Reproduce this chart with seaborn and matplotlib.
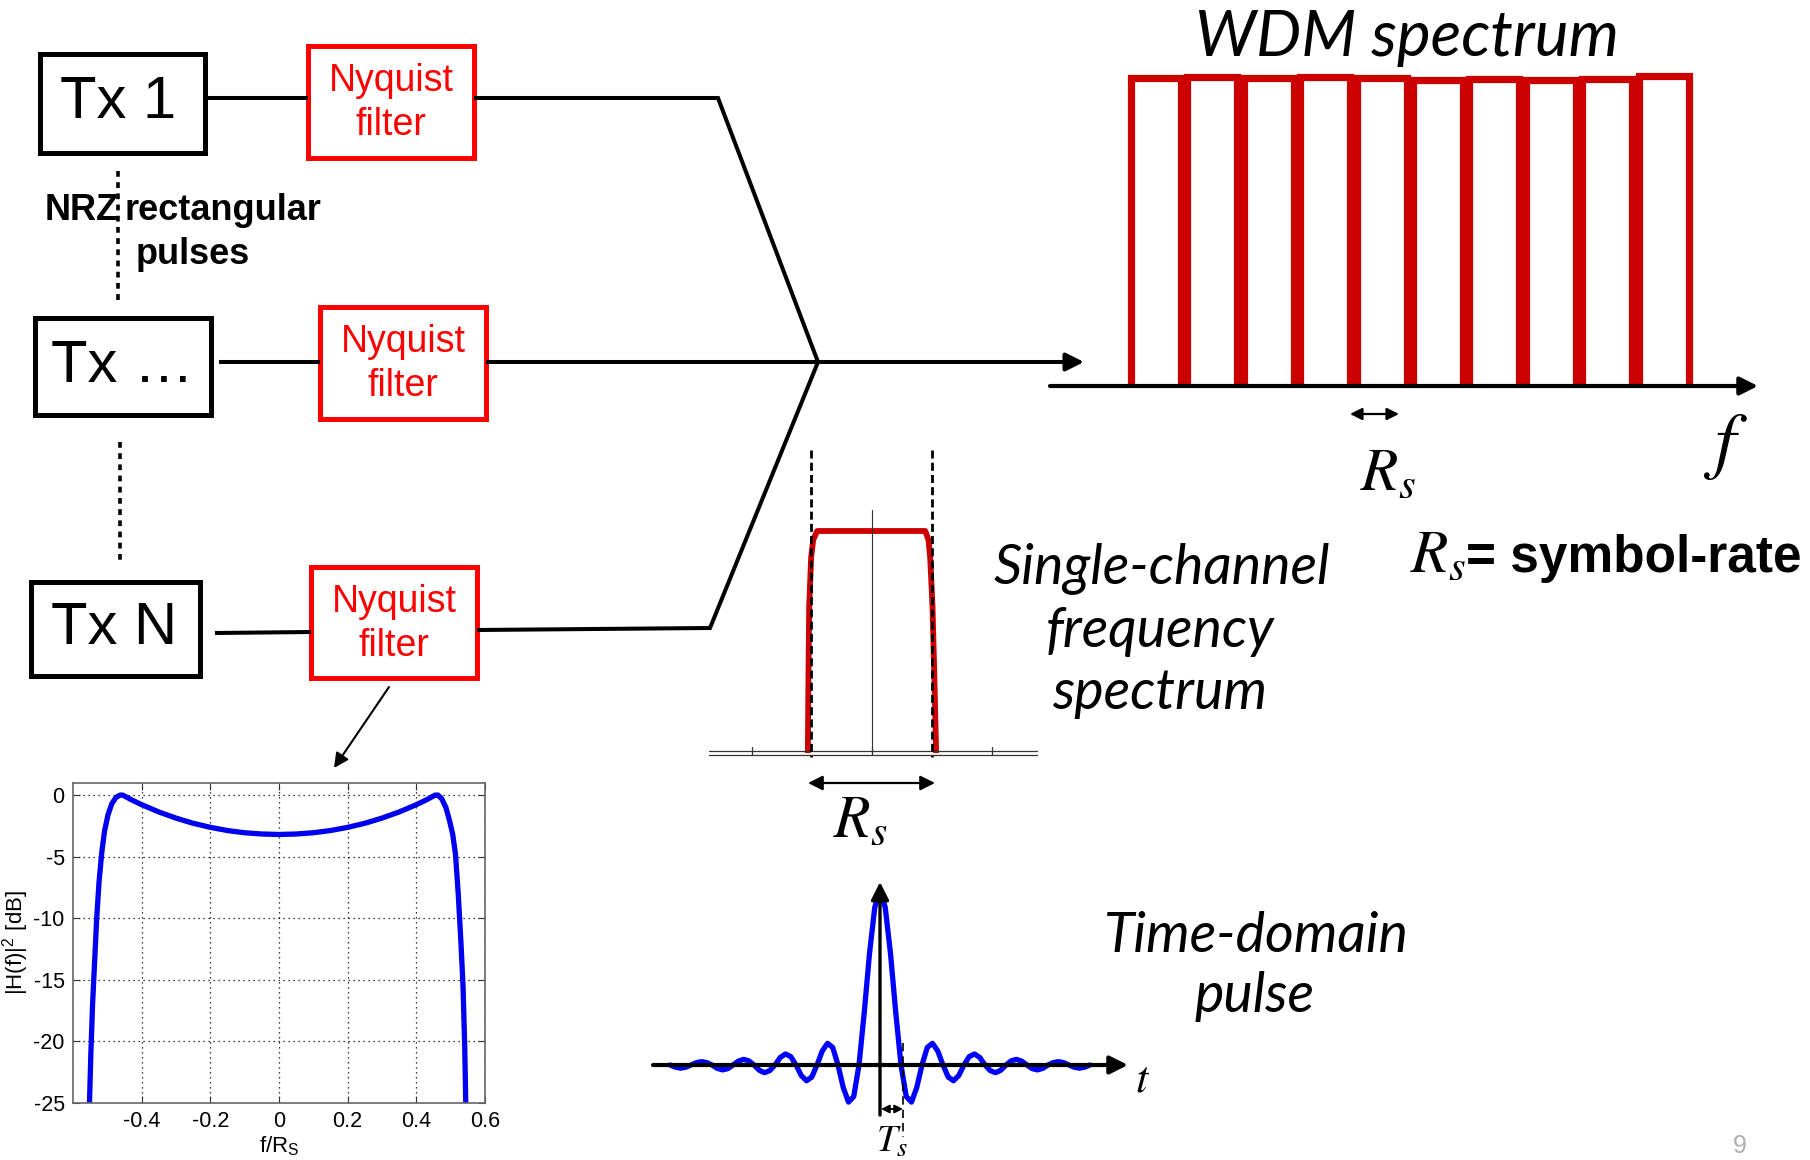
import numpy as np
import pandas as pd
import matplotlib
matplotlib.use("Agg")
import matplotlib.pyplot as plt
import seaborn as sns
from matplotlib.patches import Rectangle

sns.set_theme(style="white")
plt.rcParams['font.family'] = ['Liberation Sans', 'DejaVu Sans']
plt.rcParams['mathtext.fontset'] = 'stix'
plt.rcParams['text.color'] = 'black'
plt.rcParams['axes.labelcolor'] = 'black'
plt.rcParams['xtick.color'] = 'black'
plt.rcParams['ytick.color'] = 'black'

# ---------------- data ----------------
tx_labels = ["Tx 1", "Tx \u2026", "Tx N"]
filter_label = ["Nyquist", "filter"]

# WDM spectrum: channel centres (in units of Rs) and relative power
wdm_center = [0, 1, 2, 3, 4, 5, 6, 7, 8, 9]
wdm_power = [1.0, 1.003, 1.0, 1.003, 1.0, 0.993, 0.997, 0.995, 0.997, 1.007]

# single-channel spectrum (f / Rs, relative level)
sc_freq = [-0.530, -0.525, -0.519, -0.503, -0.486, -0.453, 0.440, 0.467, 0.481, 0.500, 0.515, 0.530]
sc_level = [0.0, 0.35, 0.66, 0.88, 0.96, 1.0, 1.0, 0.96, 0.88, 0.66, 0.35, 0.0]

# Nyquist filter |H(f)|^2 in dB
hf_freq = [-0.552, -0.548, -0.543, -0.537, -0.531, -0.524, -0.516, -0.508, -0.498, -0.487,
           -0.475, -0.463, -0.455, -0.43, -0.40, -0.35, -0.30, -0.25, -0.20, -0.15, -0.10,
           -0.05, 0.0, 0.05, 0.10, 0.15, 0.20, 0.25, 0.30, 0.35, 0.40, 0.43, 0.455, 0.463,
           0.474, 0.486, 0.497, 0.506, 0.514, 0.522, 0.530, 0.536, 0.541, 0.544]
hf_db = [-25.0, -21.0, -17.0, -13.5, -10.0, -7.0, -4.6, -2.9, -1.6, -0.7,
         -0.2, 0.0, 0.0, -0.38, -0.78, -1.37, -1.87, -2.29, -2.62, -2.88, -3.06,
         -3.16, -3.2, -3.16, -3.06, -2.88, -2.62, -2.29, -1.87, -1.37, -0.78, -0.38, 0.0, 0.0,
         -0.3, -1.0, -2.1, -3.2, -4.8, -8.0, -12.0, -15.5, -20.5, -25.0]
hf_xticks = [-0.4, -0.2, 0, 0.2, 0.4, 0.6]
hf_xticklabels = ["-0.4", "-0.2", "0", "0.2", "0.4", "0.6"]
hf_yticks = [0, -5, -10, -15, -20, -25]

# time-domain pulse (t / Ts >= 0), mirrored for t < 0
pulse_t_half = np.arange(0, 10.01, 0.25)
pulse_half = [1.0, 0.90, 0.637, 0.30, 0.0, -0.18, -0.212, -0.129, 0.0, 0.10, 0.124, 0.08,
              0.0, -0.069, -0.09, -0.06, 0.0, 0.048, 0.063, 0.043, 0.0, -0.032, -0.044, -0.03,
              0.0, 0.024, 0.032, 0.022, 0.0, -0.021, -0.028, -0.019, 0.0, 0.014, 0.019, 0.013,
              0.0, -0.013, -0.018, -0.012, 0.0]
pulse_t = np.concatenate([-pulse_t_half[::-1], pulse_t_half[1:]])
pulse_v = np.concatenate([np.array(pulse_half[::-1]), np.array(pulse_half[1:])])

# ---------------- figure ----------------
W, H = 1810, 1160
fig = plt.figure(figsize=(W / 100, H / 100), dpi=100)
fig.patch.set_facecolor("white")


def px_axes(x0, y0, x1, y1, **kw):
    return fig.add_axes([x0 / W, 1 - y1 / H, (x1 - x0) / W, (y1 - y0) / H], **kw)


RED_BOX = "#ff0000"
RED_SPEC = "#cc0000"
BLUE = "#0000ff"

# --- WDM spectrum ---
ax_w = px_axes(1040, 60, 1770, 400)
hw = 0.445
rows = []
for ch, (c, p) in enumerate(zip(wdm_center, wdm_power)):
    for fx, py in zip([c - hw, c - hw, c + hw, c + hw], [0, p, p, 0]):
        rows.append({"ch": ch, "f": fx, "p": py})
wdm_df = pd.DataFrame(rows)
sns.lineplot(data=wdm_df, x="f", y="p", units="ch", estimator=None, sort=False,
             color=RED_SPEC, lw=5.2, ax=ax_w, solid_joinstyle="miter", solid_capstyle="butt")
ax_w.set_xlim((1040 - 1156) / 56.4, (1770 - 1156) / 56.4)
ax_w.set_ylim((385 - 400) / 307, (385 - 60) / 307)
ax_w.axis("off")

# --- single-channel spectrum ---
ax_s = px_axes(700, 440, 1045, 800)
sns.lineplot(x=sc_freq, y=sc_level, sort=False, color=RED_SPEC, lw=4.2, ax=ax_s,
             solid_joinstyle="round", solid_capstyle="butt")
ax_s.set_xlim((700 - 872) / 121, (1045 - 872) / 121)
ax_s.set_ylim((753 - 800) / 222, (753 - 440) / 222)
ax_s.axis("off")

# --- time-domain pulse ---
ax_p = px_axes(650, 870, 1135, 1120)
sns.lineplot(x=pulse_t, y=pulse_v, sort=False, color=BLUE, lw=3.8, ax=ax_p)
ax_p.set_xlim((650 - 880) / 21, (1135 - 880) / 21)
ax_p.set_ylim((1065 - 1120) / 175, (1065 - 870) / 175)
ax_p.axis("off")

# --- Nyquist filter response ---
ax_h = px_axes(73, 783, 485, 1103)
ax_h.set_facecolor("white")
sns.lineplot(x=hf_freq, y=hf_db, sort=False, color="#0000ee", lw=3.8, ax=ax_h)
ax_h.set_xlim(-0.6, 0.6)
ax_h.set_ylim(-25, 0.98)
ax_h.set_xticks(hf_xticks)
ax_h.set_xticklabels(hf_xticklabels)
ax_h.set_yticks(hf_yticks)
ax_h.set_yticklabels([str(v) for v in hf_yticks])
ax_h.grid(True, ls=(0, (1, 3)), color="black", lw=0.9)
ax_h.tick_params(direction="in", length=5, width=0.8, labelsize=15.5, pad=6,
                 top=True, right=True, bottom=True, left=True, colors="#333333",
                 labelcolor="black")
for sp in ax_h.spines.values():
    sp.set_color("#666666")
    sp.set_linewidth(1.2)
ax_h.set_xlabel(r"f/R$_{\mathregular{S}}$", fontsize=16, labelpad=1)
ax_h.set_ylabel(r"|H(f)|$^{\mathregular{2}}$ [dB]", fontsize=16, labelpad=2)

# --- overlay for diagram ---
ax0 = fig.add_axes([0, 0, 1, 1], facecolor="none")
ax0.set_xlim(0, W)
ax0.set_ylim(H, 0)
ax0.axis("off")


def box(x0, y0, x1, y1, color, lw):
    ax0.add_patch(Rectangle((x0, y0), x1 - x0, y1 - y0, fill=False, ec=color, lw=lw,
                            joinstyle="miter"))


def seg(xs, ys, lw=2.9, color="black", **kw):
    ax0.plot(xs, ys, color=color, lw=lw, solid_capstyle="butt", solid_joinstyle="miter", **kw)


def arrow(start, tip, lw=2.9, ms=27, style="-|>", color="black"):
    ax0.annotate("", xy=tip, xytext=start,
                 arrowprops=dict(arrowstyle=style, lw=lw, color=color, mutation_scale=ms,
                                 shrinkA=0, shrinkB=0))


# Tx boxes
tx_boxes = [(40, 54, 205, 153), (35, 318, 211, 415), (31, 582, 200, 676)]
tx_text_pos = [(118, 103), (122, 367), (114, 629)]
for (x0, y0, x1, y1), lab, (tx, ty) in zip(tx_boxes, tx_labels, tx_text_pos):
    box(x0, y0, x1, y1, "black", 3.6)
    ax0.text(tx, ty, lab, fontsize=43, ha="center", va="center", color="black")

# Nyquist filter boxes
f_boxes = [(308, 46, 474, 158), (320, 307, 486, 419), (311, 567, 477, 678)]
for (x0, y0, x1, y1) in f_boxes:
    box(x0, y0, x1, y1, RED_BOX, 3.6)
    cx = (x0 + x1) / 2
    cy = (y0 + y1) / 2
    ax0.text(cx, cy - 21, filter_label[0], fontsize=27, ha="center", va="center", color=RED_BOX)
    ax0.text(cx, cy + 23, filter_label[1], fontsize=27, ha="center", va="center", color=RED_BOX)

# connections
seg([205, 308], [98, 98])
seg([474, 718, 818], [98, 98, 362])
seg([219, 320], [362, 362])
seg([486, 818], [362, 362])
arrow((810, 362), (1084, 362))
seg([215, 311], [633, 632])
seg([477, 710, 818], [630, 628, 362])

# dotted lines
ax0.plot([118, 118], [171, 301], color="black", lw=2.6, ls=(0, (1.6, 1.5)))
ax0.plot([120, 120], [442, 561], color="black", lw=2.6, ls=(0, (1.6, 1.5)))

# NRZ label
ax0.text(45, 211, "NRZ", fontsize=26, fontweight="bold", ha="left", va="center")
ax0.text(124, 211, "rectangular", fontsize=26, fontweight="bold", ha="left", va="center")
ax0.text(136, 255, "pulses", fontsize=26, fontweight="bold", ha="left", va="center")

# arrow to filter response
arrow((389, 687), (334, 768), lw=1.5, ms=22)

# WDM axis & labels
arrow((1050, 386), (1758, 386), lw=3.0, ms=27)
ax0.text(1407, 56, "WDM spectrum", fontsize=46, style="italic", family=["Lato", "DejaVu Sans"],
         ha="center", va="baseline")
arrow((1374, 414), (1350, 414), lw=1.6, ms=18)
arrow((1374, 414), (1399, 414), lw=1.6, ms=18)
ax0.text(1388, 490, r"$R_s$", fontsize=44, ha="center", va="baseline")
ax0.text(1725, 447, r"$f$", fontsize=54, ha="center", va="center")
ax0.text(1410, 572, r"$R_s$", fontsize=44, ha="left", va="baseline")
ax0.text(1466, 572, "= symbol-rate", fontsize=37, fontweight="bold", ha="left", va="baseline")

# single-channel decorations
ax0.plot([709, 1037], [751, 751], color="#333333", lw=0.9)
ax0.plot([709, 1037], [755, 755], color="#333333", lw=0.9)
for tx in [752, 872, 992]:
    ax0.plot([tx, tx], [747, 755], color="#333333", lw=0.9)
ax0.plot([872, 872], [510, 753], color="#333333", lw=0.8)
for dx in [811, 932]:
    ax0.plot([dx, dx], [450, 757], color="black", lw=2.0, ls=(0, (2.9, 1.5)))
arrow((870, 783), (808, 783), lw=1.6, ms=22)
arrow((870, 783), (935, 783), lw=1.6, ms=22)
ax0.text(860, 837, r"$R_s$", fontsize=43, ha="center", va="baseline")
for i, line in enumerate(["Single-channel", "frequency", "spectrum"]):
    ax0.text([1162, 1160, 1160][i], [583, 647, 709][i], line, fontsize=40, style="italic",
             family=["Lato", "DejaVu Sans"], ha="center", va="baseline")

# time-domain decorations
arrow((653, 1065), (1128, 1065), lw=3.0, ms=27)
arrow((880, 1115), (880, 882), lw=2.4, ms=27)
ax0.text(1143, 1080, r"$t$", fontsize=32, ha="center", va="center")
ax0.plot([903, 903], [1043, 1137], color="black", lw=1.2, ls=(0, (5, 3)))
arrow((892, 1109), (881, 1109), lw=1.4, ms=12)
arrow((892, 1109), (903, 1109), lw=1.4, ms=12)
ax0.text(892, 1152, r"$T_s$", fontsize=27, ha="center", va="baseline")
ax0.text(1256, 952, "Time-domain", fontsize=40, style="italic", family=["Lato", "DejaVu Sans"],
         ha="center", va="baseline")
ax0.text(1255, 1012, "pulse", fontsize=40, style="italic", family=["Lato", "DejaVu Sans"],
         ha="center", va="baseline")

# page number
ax0.text(1740, 1134, "9", fontsize=18, color="#b0b0b0", ha="center", va="top")

fig.savefig("out.png", dpi=100, facecolor="white")
